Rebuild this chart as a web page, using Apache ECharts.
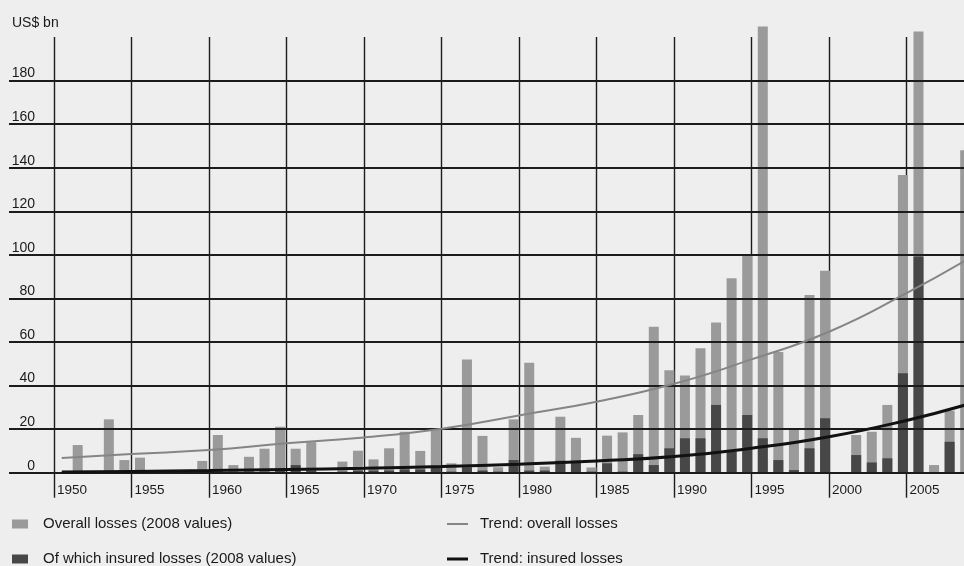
<!DOCTYPE html>
<html>
<head>
<meta charset="utf-8">
<script src="https://cdn.jsdelivr.net/npm/echarts@6/dist/echarts.min.js"></script>
<style>
html,body{margin:0;padding:0;background:#eeeeee;}
#chart{width:964px;height:566px;}
</style>
</head>
<body>
<div id="chart"></div>
<script>
const years = [1950,1951,1952,1953,1954,1955,1956,1957,1958,1959,
  1960,1961,1962,1963,1964,1965,1966,1967,1968,1969,
  1970,1971,1972,1973,1974,1975,1976,1977,1978,1979,
  1980,1981,1982,1983,1984,1985,1986,1987,1988,1989,
  1990,1991,1992,1993,1994,1995,1996,1997,1998,1999,
  2000,2001,2002,2003,2004,2005,2006,2007,2008];
const overallLosses = [0,12.7,0,24.5,5.8,6.9,0,0,0,5.4,
  17.3,3.5,7.3,11,21.1,11,14,0,5.1,10.1,
  6.1,11.2,18.8,10,20,4.3,52,16.9,2.5,24.5,
  50.5,2.8,25.7,16,2.4,17,18.5,26.5,67,47,
  44.6,57.1,68.9,89.3,99.8,204.8,55.4,19.6,81.6,92.7,
  0,17.3,18.8,31.1,136.7,202.5,3.5,28.5,148];
const insuredLosses = [0,0.5,0,0.5,0,0,0,0,0,0.3,
  0.5,0.3,0.5,0.5,1,3.5,1,0,0.5,1,
  1,1,1.5,1.5,2.5,0.5,2.5,1,0.5,5.8,
  1,1,5.5,4.5,0.5,4.3,0.5,8.5,3.5,11.2,
  15.8,15.8,31.1,9.6,26.5,15.8,5.8,1.2,11.2,25,
  0,8.1,4.7,6.6,45.6,99.2,0,14.2,0];
const trendYears = [1950.5,1955,1960,1965,1970,1975,1980,1985,1990,1995,2000,2005,2009];
const trendOverall = [6.7,8.6,10.4,13.5,16.2,20.2,26.3,32.6,40.8,52,64.7,82.4,98.2];
const trendInsured = [0.3,0.6,1.0,1.5,2.0,2.8,3.9,5.4,7.4,11.2,16.5,24,31.5];
const yTickStep = 20;
const unitLabel = 'US$ bn';
const nameOverall = 'Overall losses (2008 values)';
const nameInsured = 'Of which insured losses (2008 values)';
const nameTrendOverall = 'Trend: overall losses';
const nameTrendInsured = 'Trend: insured losses';

const FONT = '"Liberation Sans", Arial, sans-serif';
const GRID_TOP = 37, GRID_BOTTOM = 93.3;
const lineCol = '#1c1c1c';
const textCol = '#1a1a1a';

const chart = echarts.init(document.getElementById('chart'), null, {renderer: 'canvas'});
const legendText = {fontSize: 15, color: textCol, fontFamily: FONT, lineHeight: 16};
chart.setOption({
  animation: false,
  backgroundColor: '#eeeeee',
  textStyle: {fontFamily: FONT},
  title: {text: unitLabel, left: 12, top: 16, padding: 0,
    textStyle: {fontSize: 14, fontWeight: 'normal', color: textCol, fontFamily: FONT}},
  grid: [
    {left: -23.5, right: -20, top: GRID_TOP, bottom: GRID_BOTTOM, outerBoundsMode: 'none', containLabel: false},
    {left: 9, right: -20, top: GRID_TOP, bottom: GRID_BOTTOM, outerBoundsMode: 'none', containLabel: false}
  ],
  xAxis: [
    {gridIndex: 0, type: 'value', min: 1945, max: 2010, interval: 5,
      axisLine: {show: false},
      axisTick: {show: true, length: 25, lineStyle: {color: lineCol, width: 1.4}},
      splitLine: {show: true, lineStyle: {color: lineCol, width: 1.4}},
      axisLabel: {show: true, margin: 11, align: 'left', padding: [0,0,0,3], fontSize: 13.5, lineHeight: 14,
        color: textCol, fontFamily: FONT,
        formatter: v => (v > 1945 && v < 2010) ? String(v) : ''}},
    {gridIndex: 1, type: 'value', min: 1946.588, max: 2009.208, show: false}
  ],
  yAxis: [
    {gridIndex: 0, type: 'value', min: 0, max: 200, show: false},
    {gridIndex: 1, type: 'value', min: 0, max: 200, interval: yTickStep, z: 3,
      axisLine: {show: false}, axisTick: {show: false},
      splitLine: {show: true, showMaxLine: false, lineStyle: {color: lineCol, width: 1.8}},
      axisLabel: {inside: true, align: 'right', margin: 26, verticalAlign: 'bottom', lineHeight: 14,
        fontSize: 14, color: textCol, fontFamily: FONT, showMaxLabel: false}}
  ],
  legend: [
    {left: 12, top: 516, padding: 0, data: [{name: nameOverall, icon: 'rect'}], itemWidth: 16, itemHeight: 9,
      textStyle: Object.assign({padding: [0,0,0,10]}, legendText), selectedMode: false},
    {left: 12, top: 551, padding: 0, data: [{name: nameInsured, icon: 'rect'}], itemWidth: 16, itemHeight: 9,
      textStyle: Object.assign({padding: [0,0,0,10]}, legendText), selectedMode: false},
    {left: 447, top: 516, padding: 0, data: [{name: nameTrendOverall, icon: 'rect'}], itemWidth: 21, itemHeight: 2,
      textStyle: Object.assign({padding: [0,0,0,7]}, legendText), selectedMode: false},
    {left: 447, top: 551, padding: 0, data: [{name: nameTrendInsured, icon: 'rect'}], itemWidth: 21, itemHeight: 3,
      textStyle: Object.assign({padding: [0,0,0,7]}, legendText), selectedMode: false}
  ],
  series: [
    {type: 'bar', name: nameOverall, xAxisIndex: 1, yAxisIndex: 1, clip: false,
      barWidth: 10, barGap: '-100%', z: 2,
      itemStyle: {color: '#9a9a9a'},
      data: years.map((y, i) => [y, overallLosses[i]])},
    {type: 'bar', name: nameInsured, xAxisIndex: 1, yAxisIndex: 1, clip: false,
      barWidth: 10, barGap: '-100%', z: 2,
      itemStyle: {color: '#474747'},
      data: years.map((y, i) => [y, insuredLosses[i]])},
    {type: 'line', name: nameTrendOverall, xAxisIndex: 0, yAxisIndex: 0, smooth: true,
      symbol: 'none', z: 5, lineStyle: {color: '#858585', width: 2}, itemStyle: {color: '#858585'},
      data: trendYears.map((y, i) => [y, trendOverall[i]])},
    {type: 'line', name: nameTrendInsured, xAxisIndex: 0, yAxisIndex: 0, smooth: true,
      symbol: 'none', z: 6, lineStyle: {color: '#111111', width: 3}, itemStyle: {color: '#111111'},
      data: trendYears.map((y, i) => [y, trendInsured[i]])}
  ]
});
</script>
</body>
</html>
